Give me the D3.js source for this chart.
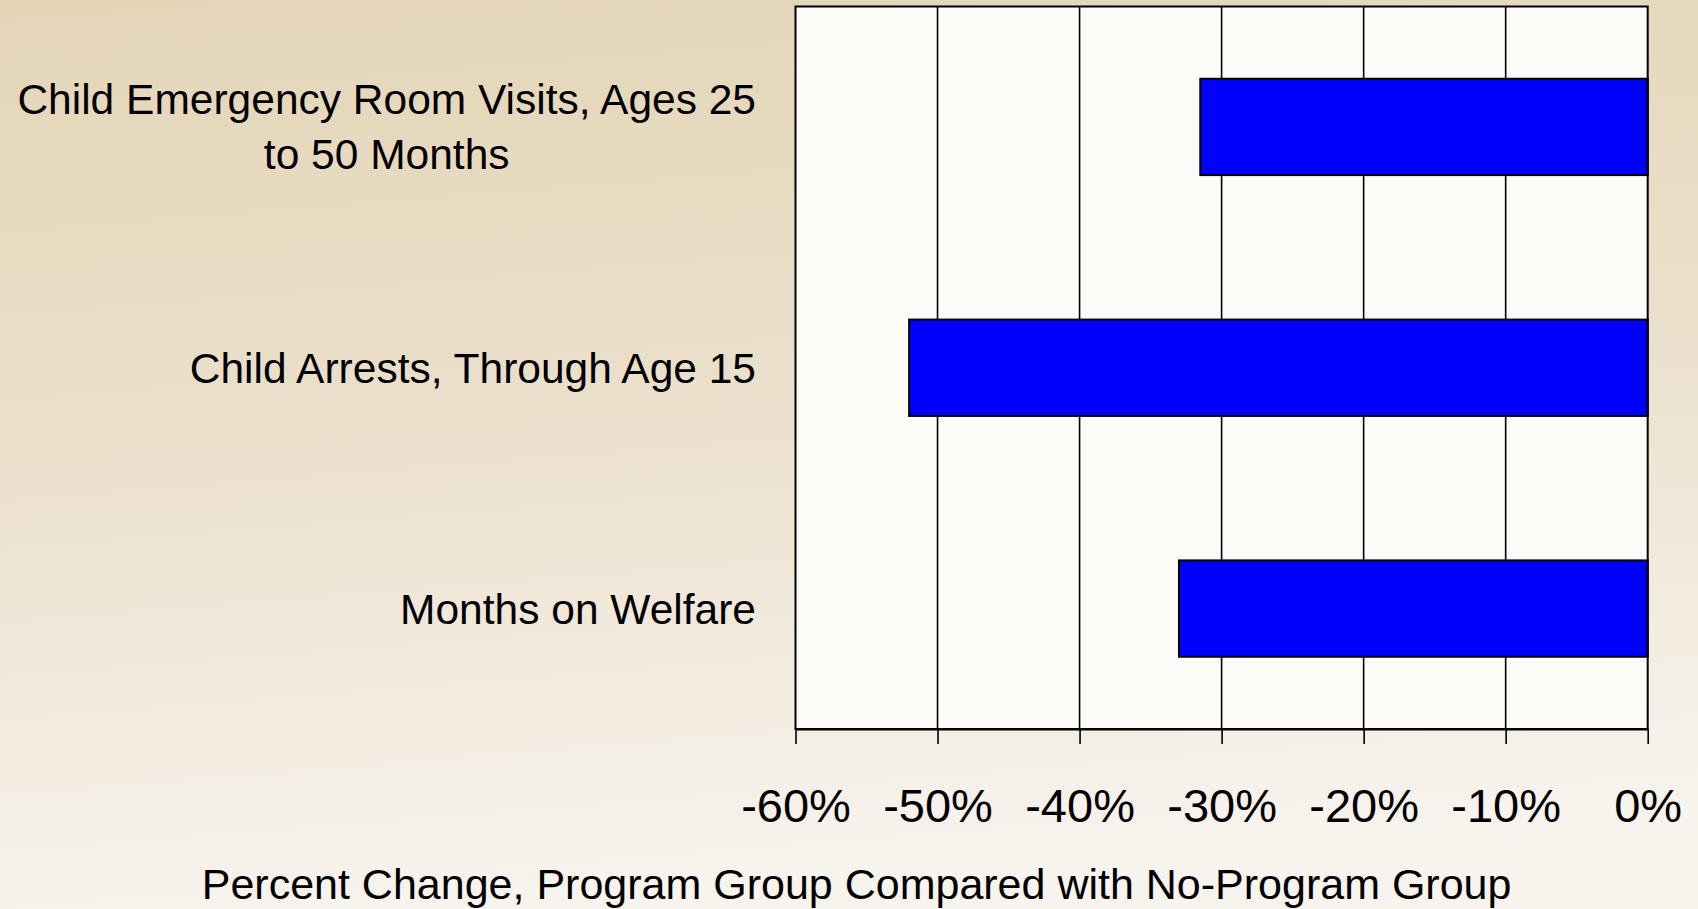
<!DOCTYPE html>
<html>
<head>
<meta charset="utf-8">
<script src="https://cdn.jsdelivr.net/npm/d3@7"></script>
<style>
  body { margin: 0; overflow: hidden; }
  svg { display: block; font-family: "Liberation Sans", Arial, sans-serif; }
</style>
</head>
<body>
<svg id="chart" width="1698" height="909"></svg>
<script>
(() => {
  'use strict';

  // data
  const categories = [
    "Child Emergency Room Visits, Ages 25 to 50 Months",
    "Child Arrests, Through Age 15",
    "Months on Welfare"
  ];
  const labelLines = [
    ["Child Emergency Room Visits, Ages 25", "to 50 Months"],
    ["Child Arrests, Through Age 15"],
    ["Months on Welfare"]
  ];
  const values = [-0.315, -0.52, -0.33];
  const tickValues = [-0.6, -0.5, -0.4, -0.3, -0.2, -0.1, 0];
  const tickLabels = ["-60%", "-50%", "-40%", "-30%", "-20%", "-10%", "0%"];
  const axisTitle = "Percent Change, Program Group Compared with No-Program Group";

  const width = 1698, height = 909;
  const plot = {left: 795.5, right: 1647.7, top: 6.5, bottom: 729};

  const svg = d3.select("#chart");

  // background
  let defs = svg.append("defs");
  let bg = defs.append("linearGradient")
    .attr("id", "bg").attr("x1", 0).attr("y1", 0).attr("x2", 0.15).attr("y2", 1);
  bg.append("stop").attr("offset", "0%").attr("stop-color", "#e4d5b7");
  bg.append("stop").attr("offset", "50%").attr("stop-color", "#ebe0cc");
  bg.append("stop").attr("offset", "100%").attr("stop-color", "#f7f3ed");
  svg.append("rect").attr("width", width).attr("height", height).attr("fill", "url(#bg)");

  const x = d3.scaleLinear().domain([-0.6, 0]).range([plot.left, plot.right]);
  const y = d3.scaleBand().domain(categories)
    .range([plot.top, plot.bottom])
    .paddingInner(0.6).paddingOuter(0.3);

  // plot area
  svg.append("rect")
    .attr("x", plot.left).attr("y", plot.top)
    .attr("width", plot.right - plot.left).attr("height", plot.bottom - plot.top)
    .attr("fill", "#fcfbf8");

  // grid
  svg.append("g")
    .selectAll("line")
    .data(tickValues.slice(1, -1))
    .join("line")
    .attr("x1", d => x(d)).attr("x2", d => x(d))
    .attr("y1", plot.top).attr("y2", plot.bottom)
    .attr("stroke", "#000").attr("stroke-width", 1.6);

  // bars
  svg.append("g")
    .selectAll("rect")
    .data(values)
    .join("rect")
    .attr("x", d => x(d))
    .attr("y", (d, i) => y(categories[i]))
    .attr("width", d => x(0) - x(d))
    .attr("height", y.bandwidth())
    .attr("fill", "#0000ff")
    .attr("stroke", "#000").attr("stroke-width", 2);

  // frame
  svg.append("rect")
    .attr("x", plot.left).attr("y", plot.top)
    .attr("width", plot.right - plot.left).attr("height", plot.bottom - plot.top)
    .attr("fill", "none").attr("stroke", "#000").attr("stroke-width", 2);

  // x axis
  let xAxis = svg.append("g")
    .attr("transform", `translate(0,${plot.bottom})`)
    .call(d3.axisBottom(x)
      .tickValues(tickValues)
      .tickFormat((d, i) => tickLabels[i])
      .tickSizeInner(15).tickSizeOuter(0));
  xAxis.select(".domain").attr("stroke", "#000").attr("stroke-width", 2);
  xAxis.selectAll(".tick line").attr("stroke", "#000").attr("stroke-width", 1.6);
  xAxis.selectAll(".tick text")
    .attr("y", 93).attr("dy", 0)
    .attr("fill", "#000")
    .style("font-size", "47px")
    .style("font-family", "'Liberation Sans', Arial, sans-serif");

  // category labels
  const labelRight = 756, lineGap = 55;
  labelLines.forEach((lines, i) => {
    let cy = y(categories[i]) + y.bandwidth() / 2;
    let g = svg.append("g");
    let first = g.append("text")
      .attr("font-size", 42.5)
      .attr("text-anchor", "end")
      .attr("x", labelRight)
      .attr("y", cy + 15 - (lines.length - 1) * lineGap / 2)
      .text(lines[0]);
    if (lines.length > 1) {
      let w = first.node().getComputedTextLength();
      lines.slice(1).forEach((t, j) => {
        g.append("text")
          .attr("font-size", 42.5)
          .attr("text-anchor", "middle")
          .attr("x", labelRight - w / 2)
          .attr("y", cy + 15 - (lines.length - 1) * lineGap / 2 + (j + 1) * lineGap)
          .text(t);
      });
    }
  });

  // axis title
  svg.append("text")
    .attr("x", 856.6).attr("y", 899)
    .attr("text-anchor", "middle")
    .attr("font-size", 43)
    .text(axisTitle);
})();
</script>
</body>
</html>
